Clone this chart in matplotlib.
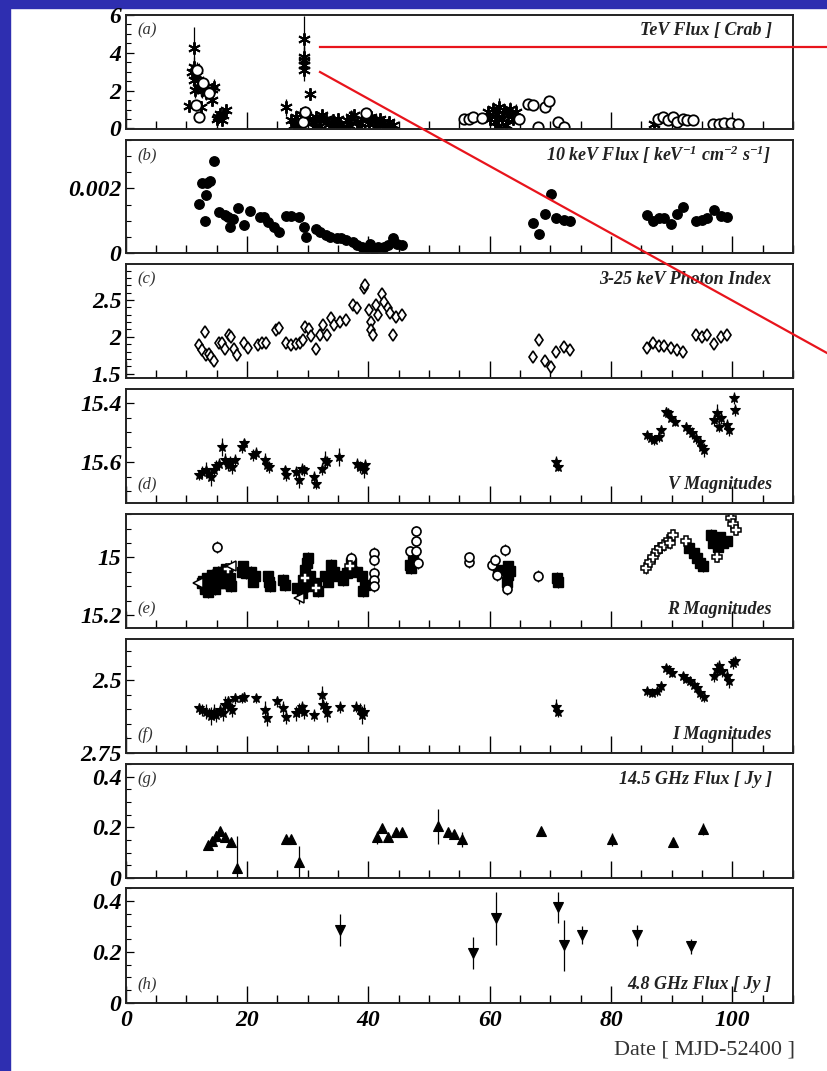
import matplotlib
matplotlib.use("Agg")
import matplotlib.pyplot as plt
from matplotlib.ticker import MultipleLocator, NullFormatter
from matplotlib.lines import Line2D
from matplotlib.patches import Rectangle

plt.rcParams['mathtext.fontset'] = 'custom'
plt.rcParams['mathtext.rm'] = 'Liberation Serif:italic:bold'
plt.rcParams['mathtext.it'] = 'Liberation Serif:italic:bold'
plt.rcParams['mathtext.bf'] = 'Liberation Serif:italic:bold'

# ---------------- DATA ----------------
# (a) TeV flux [Crab]: (day, flux, error)
tev_star = [(10.4, 1.17, 0.25), (11.0, 3.0, 0.4), (11.3, 4.27, 1.1), (11.3, 3.26, 0.5), (11.3, 2.55, 0.4),
            (11.4, 2.02, 0.4), (11.7, 2.82, 0.45), (12.0, 2.2, 0.4), (12.4, 1.13, 0.3), (12.6, 2.02, 0.4),
            (13.2, 1.88, 0.35), (14.2, 2.06, 0.35), (14.2, 1.49, 0.3), (14.5, 2.2, 0.4), (15.0, 0.51, 0.2),
            (15.2, 0.6, 0.2), (15.5, 0.78, 0.25), (15.8, 0.43, 0.2), (16.1, 0.69, 0.2), (16.6, 0.96, 0.25),
            (26.4, 1.13, 0.45), (27.3, 0.43, 0.3), (27.8, 0.2, 0.3), (28.1, 0.6, 0.3), (28.5, 0.05, 0.3),
            (28.9, 0.78, 0.3), (29.4, 4.72, 1.25), (29.4, 3.8, 0.7), (29.4, 3.62, 0.7), (29.4, 3.36, 0.6),
            (29.4, 3.09, 0.6), (29.7, 0.69, 0.3), (30.2, 0.51, 0.3), (30.4, 1.81, 0.3), (30.8, 0.34, 0.3),
            (31.0, 0.1, 0.3), (31.3, 0.6, 0.3), (31.9, 0.43, 0.3), (32.0, 0.15, 0.3), (32.4, 0.69, 0.3),
            (33.0, 0.51, 0.3), (33.5, 0.25, 0.3), (33.8, 0.05, 0.3), (34.1, 0.43, 0.3), (34.8, 0.16, 0.3),
            (35.0, 0.5, 0.3), (35.4, 0.25, 0.3), (35.9, 0.1, 0.3), (36.5, 0.43, 0.35), (36.8, 0.2, 0.3),
            (37.1, 0.6, 0.35), (37.6, 0.69, 0.35), (38.2, 0.34, 0.3), (38.6, 0.1, 0.3), (39.0, 0.51, 0.3),
            (39.6, 0.78, 0.3), (40.1, 0.25, 0.3), (40.5, 0.6, 0.3), (40.9, 0.43, 0.3), (41.2, 0.05, 0.3),
            (41.7, 0.16, 0.3), (42.0, 0.5, 0.3), (42.4, 0.34, 0.3), (43.0, 0.1, 0.3), (43.4, 0.34, 0.3),
            (44.0, 0.2, 0.3),
            (59.7, 0.87, 0.3), (60.0, 0.51, 0.3), (60.5, 1.05, 0.35), (60.8, 0.34, 0.3), (61.2, 0.78, 0.35),
            (61.3, 0.07, 0.3), (61.6, 1.13, 0.5), (62.1, 0.51, 0.3), (62.4, 0.96, 0.35), (62.7, 0.16, 0.3),
            (63.0, 0.69, 0.3), (63.4, 1.05, 0.35), (63.8, 0.51, 0.3), (64.3, 0.87, 0.4), (87.1, 0.25, 0.2)]
tev_circ = [(11.6, 1.22, 0.2), (12.1, 0.60, 0.15), (11.7, 3.1, 0.4), (12.8, 2.4, 0.35), (13.8, 1.9, 0.3),
            (29.2, 0.34, 0.3), (29.6, 0.87, 0.3), (39.6, 0.8, 0.3),
            (55.7, 0.51, 0.2), (56.6, 0.51, 0.2), (57.3, 0.6, 0.2), (58.8, 0.57, 0.2), (64.9, 0.51, 0.2),
            (66.3, 1.31, 0.2), (67.1, 1.22, 0.2), (69.2, 1.13, 0.2), (69.8, 1.45, 0.2), (68.0, 0.07, 0.2),
            (71.2, 0.34, 0.2), (72.2, 0.07, 0.2),
            (87.7, 0.51, 0.15), (88.6, 0.6, 0.15), (89.4, 0.43, 0.15), (90.2, 0.6, 0.15), (90.9, 0.34, 0.15),
            (91.8, 0.51, 0.15), (92.5, 0.43, 0.15), (93.5, 0.47, 0.15), (96.8, 0.25, 0.15), (97.8, 0.25, 0.15),
            (98.7, 0.29, 0.15), (99.8, 0.29, 0.15), (100.9, 0.25, 0.15)]

# (b) 10 keV flux [1e-3 keV^-1 cm^-2 s^-1]
xray_day = [12.1, 12.5, 13.4, 13.9, 13.2, 13.0, 14.5, 15.3, 16.3, 16.8, 17.2, 17.7, 18.5, 19.5, 20.5,
            22.2, 22.8, 23.5, 24.4, 25.2, 26.4, 27.3, 28.5, 29.4, 29.8, 31.3, 32.1, 33.0, 33.6, 34.8,
            35.5, 36.3, 37.4, 38.2, 39.0, 39.7, 40.3, 40.9, 41.6, 42.5, 43.3, 44.1, 44.7, 45.6,
            67.2, 68.2, 69.1, 70.1, 71.0, 72.2, 73.2,
            85.9, 86.9, 87.9, 88.8, 89.9, 90.9, 91.9, 94.0, 95.0, 95.9, 97.0, 98.2, 99.1]
xray_flux = [1.51, 2.18, 2.18, 2.23, 1.79, 0.99, 2.86, 1.27, 1.17, 1.12, 0.80, 1.04, 1.38, 0.86, 1.30,
             1.12, 1.10, 0.96, 0.81, 0.65, 1.14, 1.14, 1.12, 0.81, 0.50, 0.73, 0.65, 0.55, 0.50, 0.45,
             0.45, 0.39, 0.34, 0.24, 0.19, 0.17, 0.27, 0.13, 0.19, 0.19, 0.24, 0.45, 0.29, 0.24,
             0.93, 0.58, 1.22, 1.84, 1.07, 1.02, 0.99,
             1.17, 0.99, 1.07, 1.07, 0.91, 1.22, 1.41, 0.99, 1.02, 1.07, 1.33, 1.14, 1.10]

# (c) 3-25 keV photon index
index_day = [12.1, 12.5, 13.0, 13.2, 13.8, 14.1, 14.5, 15.3, 15.8, 16.3, 17.0, 17.4, 17.8, 18.3, 19.5,
             20.2, 21.8, 22.5, 23.1, 24.7, 25.2, 26.4, 27.3, 28.0, 28.8, 29.3, 29.6, 30.2, 30.6, 31.3,
             32.1, 32.5, 33.2, 33.8, 34.4, 35.4, 36.3, 37.4, 38.2, 39.2, 39.5, 40.1, 40.5, 40.5, 40.7,
             41.3, 41.6, 42.2, 42.6, 43.2, 43.5, 44.1, 44.5, 45.6,
             67.2, 68.2, 69.1, 70.1, 71.0, 72.2, 73.2,
             85.9, 86.9, 87.9, 88.8, 89.9, 90.9, 91.9, 94.0, 95.0, 95.9, 97.0, 98.2, 99.1]
index_val = [1.89, 1.82, 2.06, 1.75, 1.77, 1.73, 1.67, 1.92, 1.91, 1.84, 2.03, 2.00, 1.83, 1.75, 1.92,
             1.85, 1.89, 1.92, 1.92, 2.09, 2.12, 1.91, 1.89, 1.90, 1.91, 1.95, 2.14, 2.11, 2.01, 1.84,
             2.02, 2.16, 2.02, 2.25, 2.16, 2.20, 2.23, 2.43, 2.39, 2.66, 2.70, 2.36, 2.20, 2.09, 2.02,
             2.43, 2.30, 2.58, 2.48, 2.39, 2.32, 2.02, 2.27, 2.30,
             1.73, 1.95, 1.67, 1.59, 1.80, 1.86, 1.82,
             1.85, 1.91, 1.88, 1.88, 1.85, 1.82, 1.80, 2.03, 2.00, 2.03, 1.90, 2.00, 2.03]

# (d) V magnitudes
v_day = [12.1, 12.6, 13.2, 13.8, 14.1, 14.5, 14.9, 15.3, 15.8, 16.3, 16.8, 17.2, 17.6, 18.0,
         19.1, 19.5, 21.0, 21.4, 22.9, 23.3, 23.7, 26.2, 26.4, 28.0, 28.5, 29.0, 29.4, 31.1, 31.3,
         32.3, 32.9, 33.2, 35.1, 38.2, 38.7, 39.2, 39.5, 71.0, 71.2,
         85.9, 86.6, 87.1, 87.9, 88.2, 89.0, 89.4, 89.9, 90.5, 92.4, 92.8, 93.4, 94.0, 94.6, 95.0,
         95.3, 97.0, 97.4, 97.8, 98.2, 99.1, 99.5, 100.3, 100.5]
v_mag = [15.646, 15.634, 15.626, 15.640, 15.651, 15.629, 15.615, 15.606, 15.549, 15.594, 15.611, 15.600,
         15.617, 15.594, 15.549, 15.537, 15.577, 15.569, 15.594, 15.611, 15.617, 15.629, 15.646, 15.634,
         15.663, 15.623, 15.629, 15.651, 15.674, 15.623, 15.594, 15.600, 15.583, 15.606, 15.617, 15.629,
         15.611, 15.600, 15.617,
         15.509, 15.520, 15.526, 15.514, 15.491, 15.429, 15.434, 15.451, 15.463, 15.480, 15.491, 15.503,
         15.520, 15.531, 15.549, 15.560, 15.457, 15.434, 15.480, 15.451, 15.474, 15.491, 15.383, 15.423]
v_err = [0.015, 0.02, 0.025, 0.02, 0.03, 0.02, 0.02, 0.02, 0.03, 0.025, 0.02, 0.02, 0.025, 0.02,
         0.02, 0.015, 0.02, 0.02, 0.025, 0.02, 0.02, 0.015, 0.02, 0.02, 0.025, 0.02, 0.02, 0.02, 0.02,
         0.02, 0.03, 0.02, 0.03, 0.02, 0.02, 0.025, 0.02, 0.02, 0.015,
         0.015, 0.015, 0.015, 0.02, 0.015, 0.015, 0.015, 0.015, 0.015, 0.015, 0.015, 0.02, 0.02, 0.02, 0.02,
         0.025, 0.02, 0.03, 0.02, 0.02, 0.02, 0.02, 0.02, 0.02]

# (e) R magnitudes, by instrument
r_sq = [(12.5, 15.09), (12.8, 15.08), (13.1, 15.10), (13.4, 15.07), (13.7, 15.09), (14.0, 15.08),
        (14.3, 15.06), (14.6, 15.10), (14.9, 15.07), (15.2, 15.05), (15.5, 15.08), (15.8, 15.06),
        (16.1, 15.07), (16.4, 15.09), (16.7, 15.06), (17.0, 15.08), (17.3, 15.10), (13.0, 15.11),
        (13.6, 15.12), (14.2, 15.10), (14.8, 15.11), (15.4, 15.09), (16.0, 15.05), (16.6, 15.04),
        (17.2, 15.07), (19.4, 15.031), (19.1, 15.049), (19.9, 15.054), (20.7, 15.049), (21.3, 15.066),
        (21.0, 15.084), (23.5, 15.066), (23.7, 15.084), (23.8, 15.10), (26.0, 15.078), (26.3, 15.096),
        (28.2, 15.107), (29.3, 15.078), (29.6, 15.043), (29.9, 15.019), (30.1, 15.002), (30.3, 15.066),
        (30.0, 15.10), (29.0, 15.124), (31.4, 15.09), (31.7, 15.118), (32.8, 15.066), (33.3, 15.084),
        (33.9, 15.025), (34.4, 15.049), (35.0, 15.066), (35.8, 15.078), (36.4, 15.054), (37.2, 15.019),
        (38.1, 15.049), (38.9, 15.066), (39.4, 15.096), (39.1, 15.118), (46.8, 15.025), (47.4, 15.002),
        (47.1, 15.037), (61.4, 15.043), (63.0, 15.031), (63.0, 15.06), (62.8, 15.084), (63.3, 15.048),
        (71.1, 15.072), (71.3, 15.085), (92.8, 14.967), (93.6, 14.984), (94.2, 15.002), (94.7, 15.019),
        (95.2, 15.031), (96.5, 14.921), (97.1, 14.938), (97.7, 14.962), (98.5, 14.95), (99.2, 14.944),
        (96.8, 14.95), (97.9, 14.93)]
r_circ = [(15.0, 14.964), (37.2, 15.002), (41.0, 14.984), (41.0, 15.008), (41.0, 15.054), (41.0, 15.078),
          (41.0, 15.10), (46.8, 14.979), (47.9, 14.909), (47.9, 14.944), (47.9, 14.979), (48.2, 15.019),
          (56.6, 15.017), (56.6, 15.0), (60.4, 15.025), (60.9, 15.008), (61.2, 15.06), (62.5, 14.974),
          (67.9, 15.064), (62.8, 15.11)]
r_cross = [(85.8, 15.037), (86.4, 15.014), (86.9, 14.997), (87.5, 14.979), (88.1, 14.967), (88.8, 14.956),
           (89.5, 14.938), (90.3, 14.921), (89.8, 14.95), (92.3, 14.944), (97.4, 14.997), (99.8, 14.862),
           (100.1, 14.885), (100.6, 14.903), (29.5, 15.07), (31.3, 15.105), (36.9, 15.03), (16.9, 15.04)]
r_tri = [(12.0, 15.087), (28.5, 15.142), (17.4, 15.03)]

# (f) I magnitudes
i_day = [12.1, 12.6, 13.2, 13.8, 14.1, 14.5, 14.9, 15.5, 16.0, 16.4, 16.8, 17.2, 17.6, 18.0,
         19.1, 19.5, 21.4, 22.9, 23.3, 25.0, 26.0, 26.4, 28.0, 28.5, 29.0, 29.4, 31.1, 32.3, 32.5,
         33.1, 33.2, 35.4, 38.0, 38.6, 39.0, 39.3, 71.0, 71.2,
         85.9, 86.7, 87.5, 88.2, 89.0, 89.6, 90.1, 91.9, 92.4, 93.0, 93.6, 94.2, 94.7, 95.3, 97.0,
         97.4, 97.8, 98.3, 99.1, 99.5, 100.1, 100.5]
i_mag = [2.597, 2.602, 2.608, 2.614, 2.623, 2.608, 2.620, 2.602, 2.614, 2.585, 2.573, 2.591, 2.602,
         2.562, 2.562, 2.556, 2.562, 2.602, 2.631, 2.573, 2.597, 2.626, 2.614, 2.602, 2.591, 2.608,
         2.620, 2.550, 2.585, 2.597, 2.614, 2.593, 2.591, 2.602, 2.620, 2.608, 2.591, 2.608,
         2.538, 2.544, 2.538, 2.521, 2.457, 2.463, 2.474, 2.486, 2.495, 2.503, 2.515, 2.527, 2.544,
         2.556, 2.486, 2.463, 2.451, 2.469, 2.486, 2.503, 2.440, 2.434]
i_err = [0.02, 0.02, 0.025, 0.02, 0.03, 0.025, 0.025, 0.02, 0.025, 0.03, 0.02, 0.02, 0.025, 0.02,
         0.015, 0.015, 0.015, 0.03, 0.025, 0.02, 0.025, 0.025, 0.025, 0.025, 0.02, 0.025, 0.02, 0.03,
         0.02, 0.025, 0.03, 0.02, 0.02, 0.025, 0.03, 0.025, 0.025, 0.02,
         0.015, 0.015, 0.015, 0.02, 0.015, 0.015, 0.015, 0.015, 0.015, 0.015, 0.015, 0.02, 0.02,
         0.02, 0.02, 0.025, 0.02, 0.02, 0.025, 0.025, 0.02, 0.015]

# (g) 14.5 GHz flux [Jy]
ghz14_day = [13.5, 14.3, 14.9, 15.5, 16.3, 17.3, 18.3, 26.4, 27.3, 28.5, 41.4, 42.2, 43.3, 44.5, 45.6,
             51.4, 53.2, 54.2, 55.4, 68.4, 80.2, 90.3, 95.1]
ghz14_flux = [0.129, 0.147, 0.164, 0.187, 0.160, 0.143, 0.040, 0.153, 0.153, 0.063, 0.160, 0.196, 0.160,
              0.183, 0.183, 0.204, 0.183, 0.173, 0.153, 0.187, 0.153, 0.143, 0.193]
ghz14_err = [0.01, 0.015, 0.02, 0.015, 0.01, 0.01, 0.125, 0.01, 0.01, 0.065, 0.025, 0.01, 0.01, 0.01,
             0.01, 0.07, 0.012, 0.015, 0.03, 0.012, 0.025, 0.012, 0.025]

# (h) 4.8 GHz flux [Jy]
ghz48_day = [35.4, 57.3, 61.1, 71.3, 72.2, 75.2, 84.3, 93.2]
ghz48_flux = [0.285, 0.196, 0.331, 0.374, 0.226, 0.265, 0.265, 0.222]
ghz48_err = [0.062, 0.062, 0.105, 0.062, 0.10, 0.035, 0.04, 0.03]

titles = ["TeV Flux [ Crab ]", "10 keV Flux [ keV$^{-1}$ cm$^{-2}$ s$^{-1}$]", "3-25 keV Photon Index",
          "V Magnitudes", "R Magnitudes", "I Magnitudes", "14.5 GHz Flux [ Jy ]", "4.8 GHz Flux [ Jy ]"]
tags = ["(a)", "(b)", "(c)", "(d)", "(e)", "(f)", "(g)", "(h)"]
title_at_top = [True, True, True, False, False, False, True, False]
ylims = [(-0.03, 6.0), (0, 0.0035), (1.44, 2.99), (15.74, 15.352), (15.245, 14.849),
         (2.751, 2.357), (0, 0.45), (0, 0.45)]
yticks = [[0, 2, 4, 6], [0, 0.002], [1.5, 2, 2.5], [15.4, 15.6], [15, 15.2], [2.5, 2.75],
          [0, 0.2, 0.4], [0, 0.2, 0.4]]
yticklabels = [["0", "2", "4", "6"], ["0", "0.002"], ["1.5", "2", "2.5"], ["15.4", "15.6"],
               ["15", "15.2"], ["2.5", "2.75"], ["0", "0.2", "0.4"], ["0", "0.2", "0.4"]]
yminor = [0.5, 0.0005, 0.1, 0.05, 0.05, 0.05, 0.05, 0.05]
xticks = [0, 20, 40, 60, 80, 100]

# ---------------- FIGURE ----------------
W, H = 827, 1071
fig = plt.figure(figsize=(W / 100, H / 100), dpi=100)
fig.patch.set_facecolor('white')

# blue frame strips
fig.add_artist(Rectangle((0, 0), 10 / W, 1, transform=fig.transFigure, color='#2e2eb0', zorder=0))
fig.add_artist(Rectangle((0, 1 - 8 / H), 1, 8 / H, transform=fig.transFigure, color='#2e2eb0', zorder=0))

panels_px = [(15, 129), (140, 253), (264, 378), (389, 503), (514, 628), (639, 753), (764, 878), (888, 1003)]
left_px, right_px = 125.7, 793.0

tickfont = dict(family='Liberation Serif', style='italic', weight='bold', size=17)
axes = []
for i, (t, b) in enumerate(panels_px):
    ax = fig.add_axes([left_px / W, 1 - b / H, (right_px - left_px) / W, (b - t) / H])
    axes.append(ax)
    ax.set_xlim(0, 110)
    ax.set_ylim(*ylims[i])
    ax.xaxis.set_major_locator(MultipleLocator(20))
    ax.xaxis.set_minor_locator(MultipleLocator(5))
    ax.tick_params(axis='x', which='major', direction='in', length=12.5, width=1.0, top=False, bottom=True)
    ax.tick_params(axis='x', which='minor', direction='in', length=5.5, width=1.0, top=False, bottom=True)
    ax.set_yticks(yticks[i])
    ax.set_yticklabels(yticklabels[i], fontdict=tickfont)
    ax.yaxis.set_minor_locator(MultipleLocator(yminor[i]))
    ax.tick_params(axis='y', which='major', direction='in', length=6, width=0.9, pad=3, right=False)
    ax.tick_params(axis='y', which='minor', direction='in', length=3.5, width=0.8, right=False)
    for s in ax.spines.values():
        s.set_linewidth(1.4)
        s.set_color('#222222')
    if i < 7:
        ax.xaxis.set_major_formatter(NullFormatter())
    else:
        ax.set_xticks(xticks)
        ax.set_xticklabels([str(v) for v in xticks], fontdict=tickfont)
        ax.tick_params(axis='x', which='major', pad=5)
    ty = 0.865 if title_at_top[i] else 0.16
    ax.text(0.968, ty, titles[i], transform=ax.transAxes, ha='right', va='center',
            family='Liberation Serif', style='italic', weight='bold', size=13, color='#222222')
    ax.text(0.018, ty, tags[i], transform=ax.transAxes, ha='left', va='center',
            family='Liberation Serif', style='italic', size=12, color='#333333')

eb = dict(fmt='none', ecolor='black', elinewidth=0.9, capsize=0)


def draw(ax, x, y, err, marker, ms, mfc, mew=1.2):
    ax.errorbar(x, y, yerr=err, **eb)
    ax.plot(x, y, linestyle='none', marker=marker, ms=ms, mfc=mfc, mec='black', mew=mew)


# (a)
sx, sy, se = zip(*tev_star)
draw(axes[0], sx, sy, se, (6, 2, 0), 9, 'black', 1.4)
cx, cy, ce = zip(*tev_circ)
draw(axes[0], cx, cy, ce, 'o', 7.5, 'white', 1.3)

# (b)
axes[1].plot(xray_day, [v * 1e-3 for v in xray_flux], 'o', ms=6.8, color='black', linestyle='none')

# (c)
draw(axes[2], index_day, index_val, [0.03] * len(index_day), 'd', 6.5, 'white', 1.2)

# (d)
draw(axes[3], v_day, v_mag, v_err, '*', 7, 'black', 0.8)

# (e)
qx, qy = zip(*r_sq)
draw(axes[4], qx, qy, [0.02] * len(qx), 's', 6.5, 'black', 1.0)
ox, oy = zip(*r_circ)
draw(axes[4], ox, oy, [0.02] * len(ox), 'o', 6.5, 'white', 1.2)
kx, ky = zip(*r_cross)
draw(axes[4], kx, ky, [0.02] * len(kx), 'P', 7.5, 'white', 1.1)
tx, tyy = zip(*r_tri)
draw(axes[4], tx, tyy, [0.02] * len(tx), '<', 7, 'white', 1.1)

# (f)
draw(axes[5], i_day, i_mag, i_err, '*', 7, 'black', 0.8)

# (g)
draw(axes[6], ghz14_day, ghz14_flux, ghz14_err, '^', 6.5, 'black', 0.8)

# (h)
draw(axes[7], ghz48_day, ghz48_flux, ghz48_err, 'v', 6.5, 'black', 0.8)

fig.text(795 / W, 1 - 1050 / H, "Date [ MJD-52400 ]", ha='right', va='center',
         family='Liberation Serif', size=16, color='#333333')

# red annotation lines
fig.add_artist(Line2D([320 / W, 1.0], [1 - 47 / H, 1 - 47 / H], transform=fig.transFigure,
                      color='#e8141c', lw=1.6, zorder=10))
fig.add_artist(Line2D([320 / W, 1.0], [1 - 72 / H, 1 - 353 / H], transform=fig.transFigure,
                      color='#e8141c', lw=1.6, zorder=10))

fig.savefig("out.png", dpi=100)
